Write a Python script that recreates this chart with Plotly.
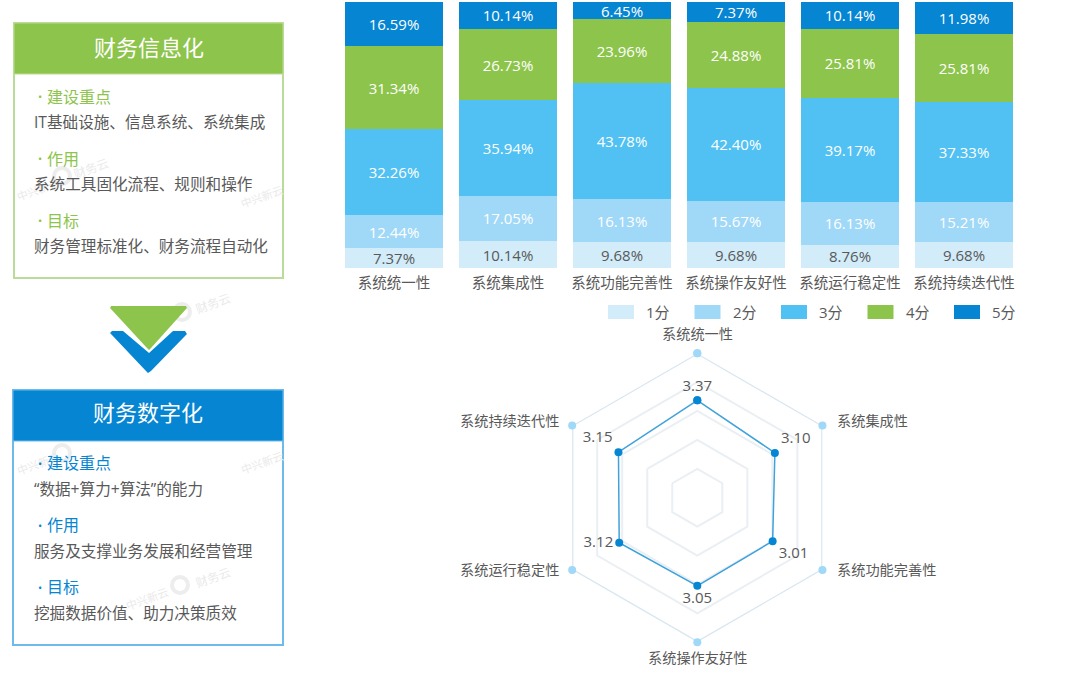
# finance informatisation panels + stacked bars + radar
import plotly.graph_objects as go

W, H = 1080, 675

# chart data
systems = ["系统统一性", "系统集成性", "系统功能完善性", "系统操作友好性", "系统运行稳定性", "系统持续迭代性"]
score_1 = [7.37, 10.14, 9.68, 9.68, 8.76, 9.68]
score_2 = [12.44, 17.05, 16.13, 15.67, 16.13, 15.21]
score_3 = [32.26, 35.94, 43.78, 42.40, 39.17, 37.33]
score_4 = [31.34, 26.73, 23.96, 24.88, 25.81, 25.81]
score_5 = [16.59, 10.14, 6.45, 7.37, 10.14, 11.98]
score_names = ["1分", "2分", "3分", "4分", "5分"]
score_colors = ["#D2ECFA", "#A0D8F7", "#50C1F2", "#8DC44B", "#0585D2"]
score_text = ["#595959", "#ffffff", "#ffffff", "#ffffff", "#ffffff"]

radar_avg = [3.37, 3.10, 3.01, 3.05, 3.12, 3.15]
radar_max = [5, 5, 5, 5, 5, 5]
radar_pos = ["top center", "top right", "bottom right", "bottom center", "middle left", "top left"]

# left panel text
green_title = "财务信息化"
green_heads = ["建设重点", "作用", "目标"]
green_lines = ["IT基础设施、信息系统、系统集成", "系统工具固化流程、规则和操作", "财务管理标准化、财务流程自动化"]
blue_title = "财务数字化"
blue_heads = ["建设重点", "作用", "目标"]
blue_lines = ["“数据+算力+算法”的能力", "服务及支撑业务发展和经营管理", "挖掘数据价值、助力决策质效"]

FONT = "Open Sans, Noto Sans CJK SC, sans-serif"
GREY = "#595959"
GREEN = "#8DC44B"
BLUE = "#0585D2"


def px_x(x):
    return x / W


def px_y(y):
    return 1 - y / H


fig = go.Figure()

# stacked bars
for vals, name, col, tcol in zip([score_1, score_2, score_3, score_4, score_5], score_names, score_colors, score_text):
    fig.add_trace(go.Bar(
        x=systems, y=vals, name=name, showlegend=False,
        marker=dict(color=col, line=dict(width=0)),
        texttemplate="%{y:.2f}%", textposition="inside", insidetextanchor="middle",
        constraintext="none", textangle=0,
        textfont=dict(size=15, color=tcol, family=FONT),
    ))

# radar: outer ring with light vertices, then the average scores
fig.add_trace(go.Scatterpolar(
    r=radar_max + radar_max[:1], theta=systems + systems[:1], mode="lines+markers",
    line=dict(color="#D8E7F1", width=2.5), marker=dict(color="#A0D8F7", size=8),
    showlegend=False, hoverinfo="skip",
))
fig.add_trace(go.Scatterpolar(
    r=radar_avg + radar_avg[:1], theta=systems + systems[:1], mode="lines+markers+text",
    text=["%.2f" % v for v in radar_avg] + [""], textposition=radar_pos + ["top center"],
    textfont=dict(size=15, color=GREY, family=FONT),
    line=dict(color="#3FA2DC", width=1.5), marker=dict(color=BLUE, size=8),
    showlegend=False,
))

# boxes, chevrons, text for the left panels
shapes = []
notes = []


def box(x0, y0, x1, y1, **kw):
    shapes.append(dict(type="rect", xref="paper", yref="paper", x0=px_x(x0), x1=px_x(x1),
                       y0=px_y(y0), y1=px_y(y1), layer="below", **kw))


def note(x, y, text, size, color, anchor="left", angle=0):
    notes.append(dict(xref="paper", yref="paper", x=px_x(x), y=px_y(y), text=text, showarrow=False,
                      xanchor=anchor, yanchor="middle", textangle=angle,
                      font=dict(size=size, color=color, family=FONT)))


def poly(points, color):
    path = "M " + " L ".join("%.4f,%.4f" % (px_x(a), px_y(b)) for a, b in points) + " Z"
    shapes.append(dict(type="path", xref="paper", yref="paper", path=path,
                       fillcolor=color, line=dict(width=0), layer="below"))


def panel(x0, y0, x1, y1, head_h, title_y, color, border, title, heads, lines, rows):
    box(x0, y0, x1, y1, fillcolor="#ffffff", line=dict(color=border, width=2))
    box(x0, y0, x1, y0 + head_h, fillcolor=color, line=dict(color=border, width=1))
    note((x0 + x1) / 2, title_y, title, 22, "#ffffff", "center")
    for h, l, (yh, yl) in zip(heads, lines, rows):
        note(36, yh, "•", 11, color)
        note(44.5, yh, h, 16, color)
        note(32, yl, l, 15.6, GREY)


panel(14, 23, 283, 278, 51, 46.5, GREEN, "#BBDC98", green_title, green_heads, green_lines,
      [(97, 122), (159, 184), (221, 246)])
panel(13, 390, 283, 645, 51, 411.5, BLUE, "#6DBBEA", blue_title, blue_heads, blue_lines,
      [(463, 489), (525, 551), (587, 613)])

# watermark logos go under the chevrons
for x, y in [(62, 176), (182, 312), (62, 453), (180, 585)]:
    shapes.append(dict(type="circle", xref="paper", yref="paper", x0=px_x(x - 8), x1=px_x(x + 8),
                       y0=px_y(y + 8), y1=px_y(y - 8), fillcolor="rgba(0,0,0,0)",
                       line=dict(color="#EDEDED", width=4), layer="below"))

# chevrons
poly([(110, 333), (112, 331), (123, 331), (149, 353), (173, 331), (185, 331), (187, 334), (151, 371), (148, 373), (146, 371)], BLUE)
poly([(111, 306), (186, 306), (187, 308), (151, 348), (149, 350), (147, 348), (110, 308)], GREEN)

# legend, drawn by hand for the wide swatches
for i, (name, col) in enumerate(zip(score_names, score_colors)):
    box(608 + 86.5 * i, 305, 634 + 86.5 * i, 319, fillcolor=col, line=dict(width=0))
    note(644 + 86.5 * i, 312, name, 15, GREY)

# radar labels sit off the vertices by different amounts, so place them by hand
radar_label_at = [(697, 333, "center"), (835, 420, "left"), (835, 569, "left"),
                  (697, 657, "center"), (561, 569, "right"), (561, 420, "right")]
for name, (x, y, anchor) in zip(systems, radar_label_at):
    note(x, y, name, 14.2, GREY, anchor)

# faint watermarks, under the panel text
WM = "#EAEAEA"
for x, y in [(38, 190), (262, 197), (38, 463), (262, 462), (147, 598)]:
    note(x, y, "中兴新云", 11, WM, "center", -20)
for x, y in [(91, 168), (213, 303), (213, 577)]:
    note(x, y, "财务云", 12, WM, "center", -20)
notes = notes[-8:] + notes[:-8]

fig.update_layout(
    width=W, height=H, margin=dict(l=0, r=0, t=0, b=0),
    paper_bgcolor="#ffffff", plot_bgcolor="#ffffff",
    barmode="stack", bargap=16 / 114,
    font=dict(family=FONT, color=GREY, size=14),
    xaxis=dict(domain=[px_x(337), px_x(1021)], showgrid=False, zeroline=False, showline=False,
               ticks="", tickangle=0, ticklabelstandoff=4, tickfont=dict(size=14.5, color=GREY), fixedrange=True),
    yaxis=dict(domain=[px_y(268), px_y(2)], range=[0, 100], visible=False, fixedrange=True),
    showlegend=False,
    polar=dict(
        domain=dict(x=[px_x(697.3 - 144.5), px_x(697.3 + 144.5)], y=[px_y(497.7 + 144.5), px_y(497.7 - 144.5)]),
        gridshape="linear", bgcolor="rgba(0,0,0,0)",
        radialaxis=dict(range=[0, 5], tickvals=[1, 2, 3, 4, 5], showticklabels=False, ticks="",
                        showline=False, gridcolor="#EAEFF3", gridwidth=1.5),
        angularaxis=dict(direction="clockwise", rotation=90, categoryorder="array", categoryarray=systems,
                         showgrid=False, showline=False, ticks="", showticklabels=False),
    ),
    shapes=shapes, annotations=notes,
)

# the default body margin would push the figure 8px off
fig.write_html("out.html", config={"displayModeBar": False}, post_script="document.body.style.margin='0';")
